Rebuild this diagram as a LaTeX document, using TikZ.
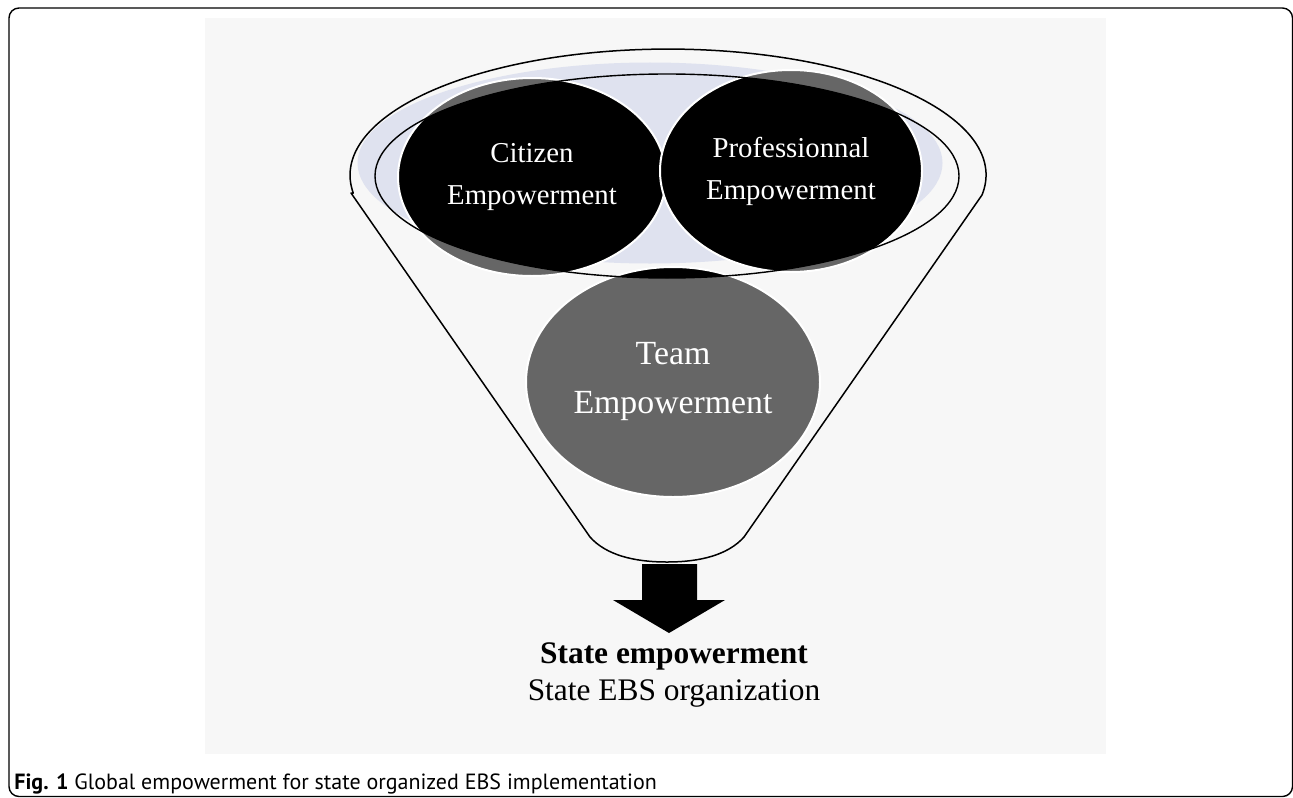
\documentclass[tikz,border=0pt]{standalone}
\usepackage{fontspec}
\setmainfont{Liberation Serif}
\newfontfamily\capfont{PT Sans}
\usepackage{tikz}
\usetikzlibrary{shapes.geometric}
\definecolor{panelgray}{HTML}{F7F7F7}
\definecolor{rimblue}{HTML}{DFE2EF}
\definecolor{discgray}{HTML}{666666}

\begin{document}
\begin{tikzpicture}%
		[
			x=0.5pt, y=-0.5pt,
			every text node part/.style={align=center},
			disc/.style={
				ellipse,
				inner sep=0,
				fill=discgray,
				draw=white,
				line width=1pt,
				text=white,
				% black where the disc lies inside the rim
				path picture={\fill[black] (rimc) ellipse [x radius=292, y radius=102];},
			},
			rim/.style={ellipse, inner sep=0, draw=black, line width=0.7pt, minimum width=292pt, minimum height=102pt},
			glow/.style={ellipse, inner sep=0, fill=rimblue, minimum width=292.5pt, minimum height=100.5pt},
			funnel/.style={draw=black, line width=0.75pt, line join=round},
			smallText/.style={font={\fontsize{14.4}{21}\selectfont}},
			bigText/.style={font={\fontsize{16.9}{24.5}\selectfont}},
			resultText/.style={anchor=base, inner sep=0, font={\fontsize{15.7}{18}\selectfont}},
		]
		\useasboundingbox (0,0) rectangle (1293,797);
		\fill[panelgray] (205,18) rectangle (1106,754);
		\draw[line width=0.7pt, rounded corners=5pt] (9,8) rectangle (1292.5,796.5);
		
		\coordinate (rimc) at (667,176);
		\node[glow] (glow) at (650,163) {};
		
		\node[disc, smallText, minimum width=134pt, minimum height=99pt] (citizen) at (532,177) {Citizen\\Empowerment};
		\node[disc, smallText, minimum width=131pt, minimum height=101pt] (prof) at (791,171) {Professionnal\\Empowerment};
		\node[disc, bigText, minimum width=147pt, minimum height=115pt] (team) at (673,382) {Team\\Empowerment};
		
		\node[rim] (rim) at (rimc) {};
		
		\draw[funnel] 
			(351,193) -- (590,537) 
			.. controls (606,555) and (634,562) .. (667,562) 
			.. controls (700,562) and (728,555) .. (744,537) 
			-- (982,195) 
			arc [start angle=9.1, end angle=-188.2, x radius=318, y radius=126] 
			-- cycle;
		
		\fill[black] (642,564) -- (697,564) -- (697,600) -- (725,600) -- (669,633) -- (613,600) -- (642,600) -- cycle;
		
		\node[resultText] (state) at (674,663) {\textbf{State empowerment}};
		\node[resultText] (org) at (674,700) {State EBS organization};
		
		\node[anchor=base west, inner sep=0, font={\capfont\fontsize{11}{13}\selectfont}] (caption) at (14,789) 
			{\textbf{Fig. 1} Global empowerment for state organized EBS implementation};
	\end{tikzpicture}
\end{document}
